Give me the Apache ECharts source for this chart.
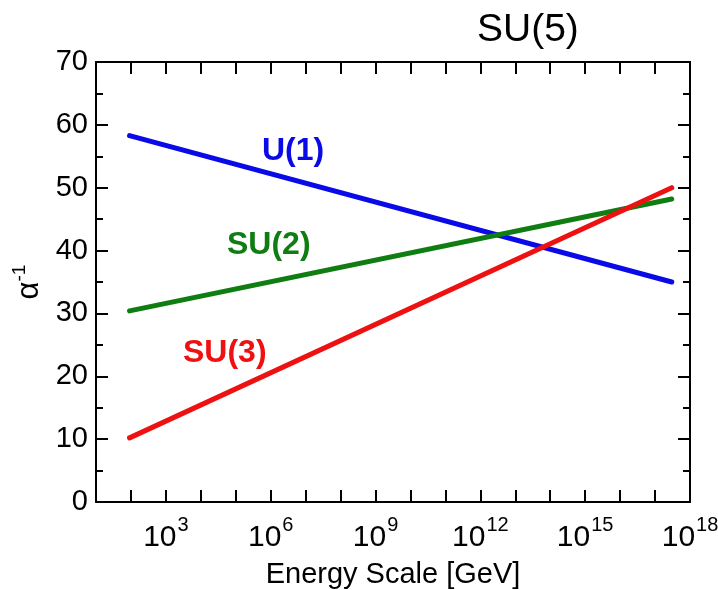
<!DOCTYPE html>
<html>
<head>
<meta charset="utf-8">
<script src="https://cdn.jsdelivr.net/npm/echarts@6/dist/echarts.min.js"></script>
<style>
html,body{margin:0;padding:0;background:#fff;}
#chart{width:718px;height:590px;}
</style>
</head>
<body>
<div id="chart"></div>
<script>
// Data
const energyGeV = [91.19, 3e17];
const u1Inv = [58.3, 35.0];
const su2Inv = [30.4, 48.2];
const su3Inv = [10.2, 50.0];
const yTicks = [0, 10, 20, 30, 40, 50, 60, 70];
const xLabelExponents = [3, 6, 9, 12, 15, 18];
const seriesNames = ['U(1)', 'SU(2)', 'SU(3)'];
const titleText = 'SU(5)';
const xName = 'Energy Scale [GeV]';

const FONT = 'Liberation Sans, Arial, sans-serif';
const colors = ['#0a0ae8', '#0f7d12', '#ee1111'];

const chart = echarts.init(document.getElementById('chart'), null, {renderer: 'canvas'});

function pairs(ys) { return energyGeV.map((x, i) => [x, ys[i]]); }

const axisLineStyle = {color: '#000', width: 2};
const xCommon = {
  type: 'log', logBase: 10, min: 10, max: 1e18, interval: 1,
  splitLine: {show: false},
  axisLine: {show: true, onZero: false, lineStyle: axisLineStyle},
  axisTick: {show: true, inside: true, length: 12, lineStyle: {color: '#000', width: 2}}
};
const yCommon = {
  type: 'value', min: yTicks[0], max: yTicks[yTicks.length - 1], interval: 10,
  splitLine: {show: false},
  axisLine: {show: true, lineStyle: axisLineStyle},
  axisTick: {show: true, inside: true, length: 12, lineStyle: {color: '#000', width: 2}},
  minorTick: {show: true, splitNumber: 2, length: 7, lineStyle: {color: '#000', width: 2}}
};

const option = {
  backgroundColor: '#fff',
  animation: false,
  title: {
    text: titleText, left: 472, top: 6,
    textStyle: {fontFamily: FONT, fontSize: 39, fontWeight: 'normal', color: '#000'}
  },
  grid: {left: 96, right: 28, top: 62, bottom: 88, containLabel: false, outerBoundsMode: 'none'},
  xAxis: [
    Object.assign({}, xCommon, {
      position: 'bottom',
      name: xName, nameLocation: 'middle', nameGap: 58,
      nameTextStyle: {fontFamily: FONT, fontSize: 29, color: '#000'},
      axisLabel: {
        margin: 13,
        showMinLabel: true, showMaxLabel: true,
        formatter: function (v) {
          const e = Math.round(Math.log10(v));
          return xLabelExponents.indexOf(e) >= 0 ? '{b|10}{s|' + e + '}' : '';
        },
        rich: {
          b: {fontFamily: FONT, fontSize: 30, color: '#000', lineHeight: 38, verticalAlign: 'bottom'},
          s: {fontFamily: FONT, fontSize: 20, color: '#000', lineHeight: 38, verticalAlign: 'top', padding: [0, 0, 0, 1]}
        }
      }
    }),
    Object.assign({}, xCommon, {position: 'top', axisLabel: {show: false}})
  ],
  yAxis: [
    Object.assign({}, yCommon, {
      position: 'left',
      name: 'α{s|-1}', nameLocation: 'middle', nameGap: 44, nameRotate: 90,
      nameTextStyle: {
        fontFamily: FONT, fontSize: 31, color: '#000',
        rich: {s: {fontFamily: FONT, fontSize: 19, color: '#000', verticalAlign: 'top', lineHeight: 38}}
      },
      axisLabel: {fontFamily: FONT, fontSize: 29, color: '#000', margin: 8}
    }),
    Object.assign({}, yCommon, {position: 'right', axisLabel: {show: false}})
  ],
  series: [u1Inv, su2Inv, su3Inv].map((ys, i) => ({
    name: seriesNames[i], type: 'line', data: pairs(ys),
    xAxisIndex: 0, yAxisIndex: 0,
    showSymbol: false, symbol: 'none',
    lineStyle: {color: colors[i], width: 5, cap: 'round'},
    z: 3
  })),
  graphic: [
    {type: 'text', left: 262, top: 135, style: {text: seriesNames[0], fill: colors[0], font: 'bold 32px ' + FONT}},
    {type: 'text', left: 227, top: 229, style: {text: seriesNames[1], fill: colors[1], font: 'bold 32px ' + FONT}},
    {type: 'text', left: 183, top: 337, style: {text: seriesNames[2], fill: colors[2], font: 'bold 32px ' + FONT}}
  ]
};
chart.setOption(option);
</script>
</body>
</html>
